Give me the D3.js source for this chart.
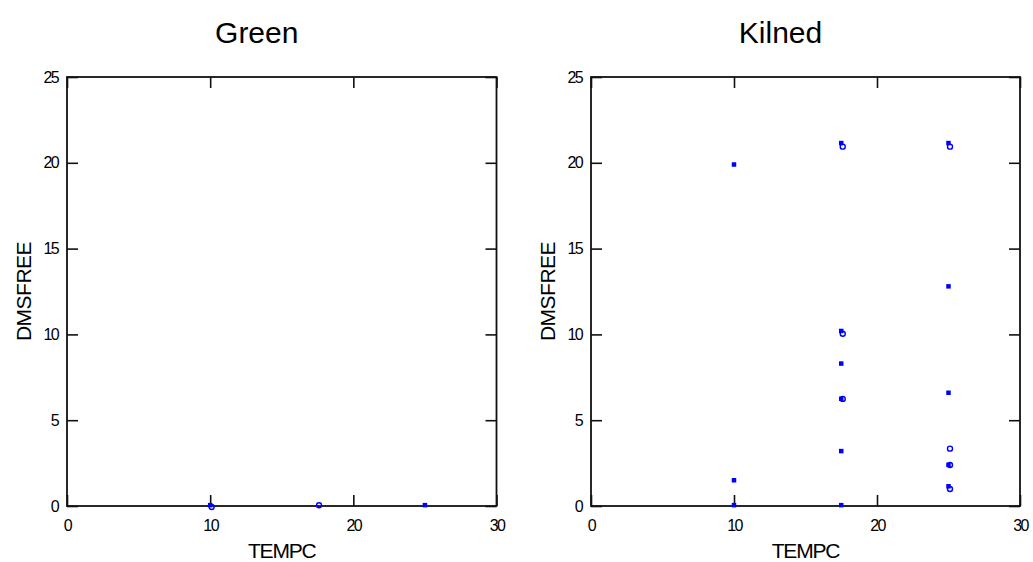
<!DOCTYPE html>
<html>
<head>
<meta charset="utf-8">
<script src="https://cdn.jsdelivr.net/npm/d3@7"></script>
<style>
  html, body { margin: 0; padding: 0; background: #fff; }
  svg { display: block; }
  text { font-family: "Liberation Sans", Arial, Helvetica, sans-serif; fill: #000; }
</style>
</head>
<body>
<svg id="chart" width="1033" height="562"></svg>
<script>
// Panel titles and axis labels
const panelTitles = ["Green", "Kilned"];
const xLabel = "TEMPC";
const yLabel = "DMSFREE";

// Axis ticks
const xTicks = [0, 10, 20, 30];
const yTicks = [0, 5, 10, 15, 20, 25];

// Green malt: dot markers and ring markers (temperature °C, free DMS)
const greenDotTemp = [10, 25];
const greenDotFree = [0.05, 0.05];
const greenRingTemp = [10, 17.5];
const greenRingFree = [0.0, 0.1];

// Kilned malt: dot markers and ring markers
const kilnedDotTemp = [10, 10, 10, 17.5, 17.5, 17.5, 17.5, 17.5, 17.5, 25, 25, 25, 25, 25];
const kilnedDotFree = [19.9, 1.5, 0.05, 21.15, 10.2, 8.3, 6.25, 3.2, 0.05, 21.15, 12.8, 6.6, 2.4, 1.15];
const kilnedRingTemp = [17.5, 17.5, 17.5, 25, 25, 25, 25];
const kilnedRingFree = [21.0, 10.1, 6.3, 21.0, 3.4, 2.45, 1.05];

const zip = (xs, ys) => xs.map((x, i) => ({ x, y: ys[i] }));

const panels = [
  { title: panelTitles[0], left: 67, right: 496.5,
    dots: zip(greenDotTemp, greenDotFree), rings: zip(greenRingTemp, greenRingFree) },
  { title: panelTitles[1], left: 591, right: 1020,
    dots: zip(kilnedDotTemp, kilnedDotFree), rings: zip(kilnedRingTemp, kilnedRingFree) }
];

const plotTop = 77, plotBottom = 506;
const tickLen = 11;
const markColor = "#0000ff";
const svg = d3.select("#chart");

panels.forEach(p => {
  const x = d3.scaleLinear().domain([0, 30]).range([p.left, p.right]);
  const y = d3.scaleLinear().domain([0, 25]).range([plotBottom, plotTop]);
  const g = svg.append("g");

  // inward ticks on all four sides
  const axisStyle = sel => {
    sel.attr("font-family", null).attr("font-size", null);
    sel.select(".domain").remove();
    sel.selectAll(".tick line").attr("stroke", "#111").attr("stroke-width", 1.6);
    sel.selectAll(".tick text").style("font-size", "16px").attr("letter-spacing", "-1.6px");
  };

  g.append("g").attr("transform", `translate(0,${plotBottom})`)
    .call(d3.axisBottom(x).tickValues(xTicks).tickSizeInner(-tickLen).tickSizeOuter(0).tickPadding(14))
    .call(axisStyle);
  g.append("g").attr("transform", `translate(0,${plotTop})`)
    .call(d3.axisTop(x).tickValues(xTicks).tickSizeInner(-tickLen).tickSizeOuter(0).tickFormat(""))
    .call(axisStyle);
  g.append("g").attr("transform", `translate(${p.left},0)`)
    .call(d3.axisLeft(y).tickValues(yTicks).tickSizeInner(-tickLen).tickSizeOuter(0).tickPadding(9))
    .call(axisStyle);
  g.append("g").attr("transform", `translate(${p.right},0)`)
    .call(d3.axisRight(y).tickValues(yTicks).tickSizeInner(-tickLen).tickSizeOuter(0).tickFormat(""))
    .call(axisStyle);

  // plot box
  g.append("rect")
    .attr("x", p.left).attr("y", plotTop)
    .attr("width", p.right - p.left).attr("height", plotBottom - plotTop)
    .attr("fill", "none").attr("stroke", "#111").attr("stroke-width", 1.8);

  // ring markers
  g.selectAll("circle.ring").data(p.rings).join("circle")
    .attr("class", "ring")
    .attr("cx", d => x(d.x) + 1.5).attr("cy", d => y(d.y) + 1)
    .attr("r", 2.5)
    .attr("fill", "none").attr("stroke", markColor).attr("stroke-width", 1.4);

  // dot markers
  g.selectAll("rect.dot").data(p.dots).join("rect")
    .attr("class", "dot")
    .attr("x", d => x(d.x) - 2.25).attr("y", d => y(d.y) - 2.25)
    .attr("width", 4.5).attr("height", 4.5)
    .attr("fill", markColor);

  const cx = (p.left + p.right) / 2;

  // title
  g.append("text")
    .attr("x", cx - 25).attr("y", 43)
    .attr("text-anchor", "middle")
    .style("font-size", "30px")
    .text(p.title);

  // x label
  g.append("text")
    .attr("x", cx).attr("y", 558)
    .attr("text-anchor", "middle")
    .style("font-size", "21px")
    .attr("letter-spacing", "-1.2px")
    .text(xLabel);

  // y label
  g.append("text")
    .attr("transform", `translate(${p.left - 36},${(plotTop + plotBottom) / 2}) rotate(-90)`)
    .attr("text-anchor", "middle")
    .style("font-size", "21px")
    .attr("letter-spacing", "-0.5px")
    .text(yLabel);
});
</script>
</body>
</html>
